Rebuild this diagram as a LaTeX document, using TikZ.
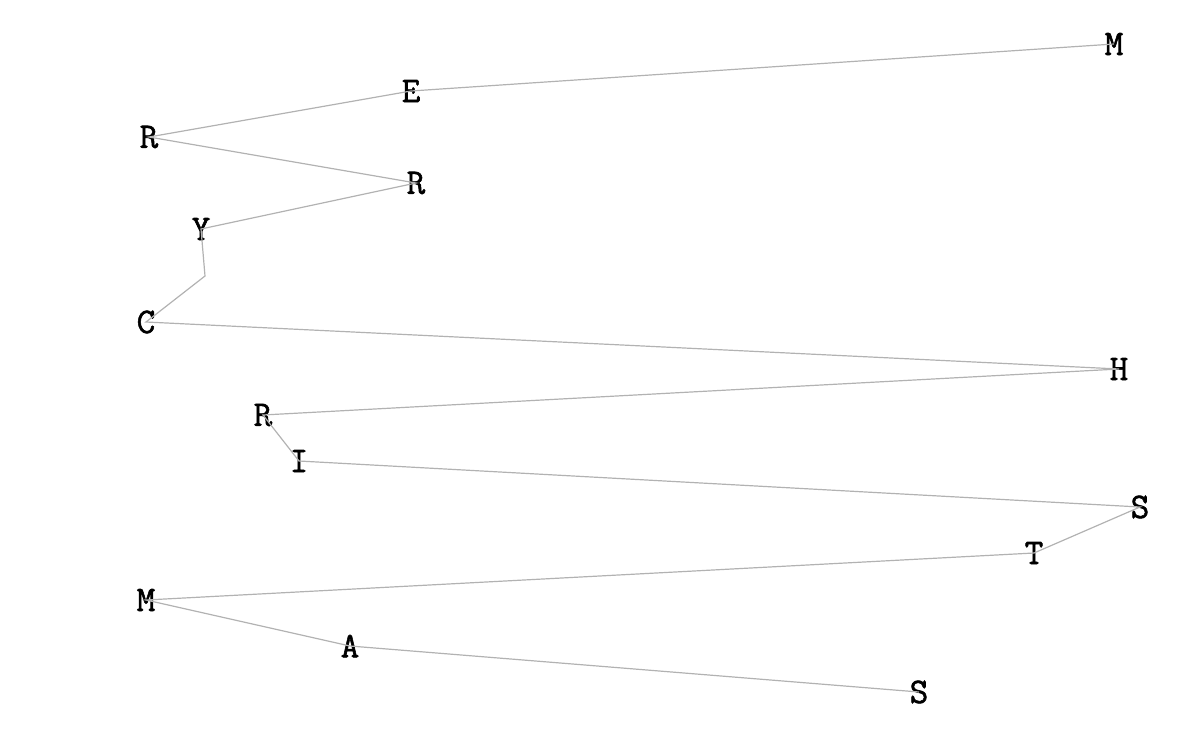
\documentclass[tikz,border=0pt]{standalone}
\usepackage{fontspec}
\newfontfamily\lettertt[FakeBold=1.6]{Latin Modern Mono}
\usepackage{xcolor}
\usepackage{tikz}
\usetikzlibrary{positioning,calc}
\definecolor{linkgray}{HTML}{B2B2B2}

\begin{document}
\begin{tikzpicture}[
  x=1pt, y=-1pt,
  letter/.style={inner sep=0pt, font=\lettertt\fontsize{36}{36}\selectfont},
  link/.style={draw=linkgray, line width=1.2pt}
]
  \useasboundingbox (0,0) rectangle (1200,737);
  \node[letter] (m1) at (1114,44) {M};
  \node[letter] (e) at (411,91) {E};
  \node[letter] (r1) at (149,137) {R};
  \node[letter] (r2) at (416,183) {R};
  \node[letter] (y) at (201,229) {Y};
  \coordinate (gap) at (205,276);
  \node[letter] (c) at (146,322) {C};
  \node[letter] (h) at (1119,369) {H};
  \node[letter] (r3) at (263,415) {R};
  \node[letter] (i) at (299,461) {I};
  \node[letter] (s1) at (1140,507) {S};
  \node[letter] (t) at (1034,553) {T};
  \node[letter] (m2) at (146,600) {M};
  \node[letter] (a) at (350,646) {A};
  \node[letter] (s2) at (919,692) {S};

  \draw[link] (m1.center) -- (e.center) -- (r1.center) -- (r2.center) -- (y.center)
    -- (gap) -- (c.center) -- (h.center) -- (r3.center) -- (i.center) -- (s1.center)
    -- (t.center) -- (m2.center) -- (a.center) -- (s2.center);
\end{tikzpicture}
\end{document}
